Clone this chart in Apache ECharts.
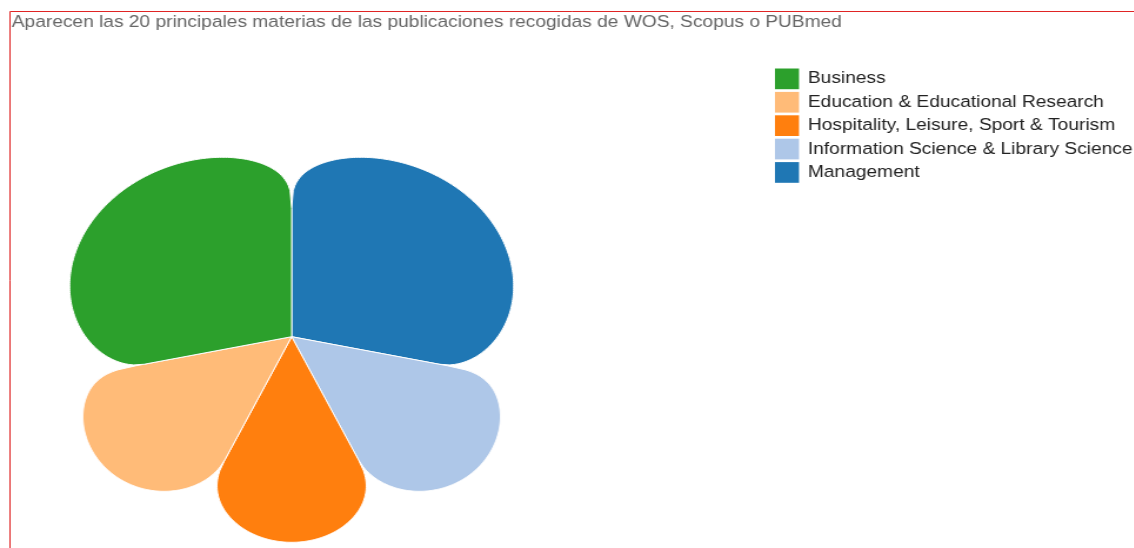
<!DOCTYPE html>
<html><head><meta charset="utf-8">
<script src="https://cdn.jsdelivr.net/npm/echarts@6/dist/echarts.min.js"></script>
<style>
html,body{margin:0;padding:0;background:#fff;overflow:hidden;}
#main{width:964px;height:548px;transform:scaleX(1.176);transform-origin:0 0;}
</style></head><body><div id="main"></div>
<script>
const titleText = 'Aparecen las 20 principales materias de las publicaciones recogidas de WOS, Scopus o PUBmed';
const subjects = ['Management', 'Information Science & Library Science', 'Hospitality, Leisure, Sport & Tourism', 'Education & Educational Research', 'Business'];
const counts = [31, 16, 15, 16, 31];
const colors = ['#1f77b4', '#aec7e8', '#ff7f0e', '#ffbb78', '#2ca02c'];
const legendOrder = subjects.slice().sort();

const total = counts.reduce((a, b) => a + b, 0);
let acc = 0;
const spans = counts.map(v => { const s = acc; acc += v; return [s, acc]; });

function renderPetal(params, api) {
  const start = api.value(0), end = api.value(1);
  const mid = (start + end) / 2, half = (end - start) / 2;
  const halfDeg = half / total * 180;
  const midRad = mid / total * 2 * Math.PI;
  const skew = 0.11 * Math.sin(midRad);
  const base = Math.max(0.42, Math.min(0.66, 0.63 - (halfDeg - 24.8) * 0.0068));
  const pts = [api.coord([0, start])];
  const N = 200;
  for (let i = 0; i <= N; i++) {
    const u = -1 + 2 * i / N;
    const c = Math.max(0, Math.cos(u * Math.PI / 2));
    const p = 0.44 + skew * u;
    const r = base + (1 - base) * Math.pow(c, p);
    pts.push(api.coord([r, mid + u * half]));
  }
  return {
    type: 'polygon',
    shape: { points: pts },
    style: { fill: api.visual('color'), stroke: '#ffffff', lineWidth: 1 }
  };
}

const chart = echarts.init(document.getElementById('main'), null, { renderer: 'canvas' });
chart.setOption({
  animation: false,
  backgroundColor: '#ffffff',
  title: {
    text: titleText, left: 10, top: 14.5, padding: 0,
    textStyle: { fontSize: 16.3, fontWeight: 'normal', color: '#666666', fontFamily: 'Liberation Sans' }
  },
  legend: {
    data: legendOrder, orient: 'vertical', left: 659, top: 68.5, padding: 0,
    itemWidth: 20.4, itemHeight: 20.7, itemGap: 2.7, icon: 'rect', selectedMode: false,
    textStyle: { fontSize: 16.3, color: '#222222', fontFamily: 'Liberation Sans', padding: [0, 0, 0, 2.6] }
  },
  graphic: [{
    type: 'rect', silent: true, z: -10,
    shape: { x: 8.5, y: 11.5, width: 3000, height: 3000 },
    style: { fill: 'none', stroke: '#e02424', lineWidth: 1 }
  }],
  polar: { center: [248, 336.7], radius: 205.6 },
  angleAxis: { type: 'value', min: 0, max: total, startAngle: 90, clockwise: true, show: false },
  radiusAxis: { type: 'value', min: 0, max: 1, show: false },
  series: subjects.map((name, i) => ({
    type: 'custom', name: name, coordinateSystem: 'polar',
    itemStyle: { color: colors[i] },
    renderItem: renderPetal,
    data: [[spans[i][0], spans[i][1], counts[i]]]
  }))
});
</script></body></html>
